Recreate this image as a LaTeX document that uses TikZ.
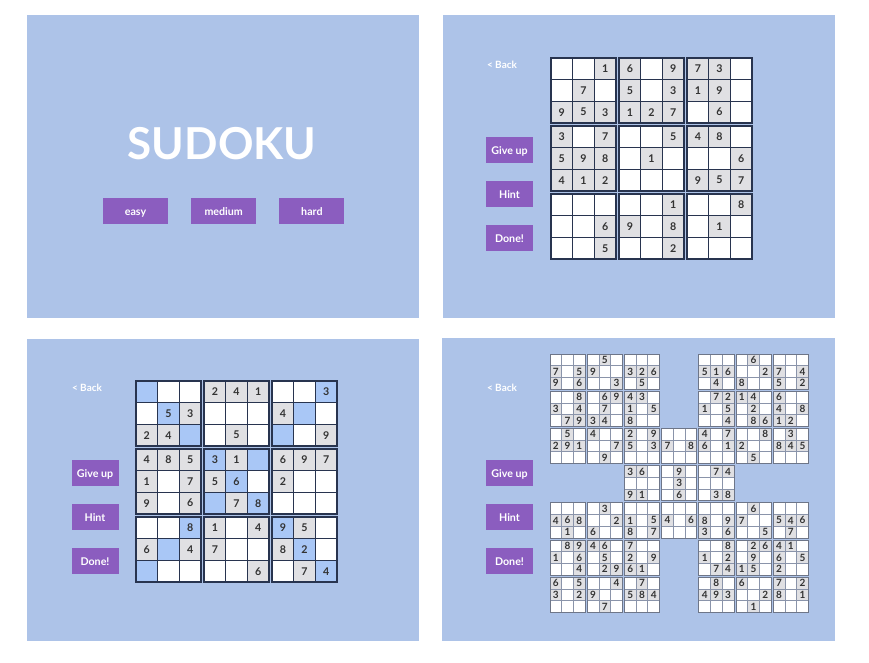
\documentclass[tikz,border=0pt]{standalone}
\usepackage{fontspec}
\setmainfont{Lato}
\usetikzlibrary{positioning}

\definecolor{panelblue}{HTML}{ADC3E8}
\definecolor{btnpurple}{HTML}{8B5DBF}
\definecolor{givengray}{HTML}{E0E0E3}
\definecolor{markblue}{HTML}{A9C7F6}
\definecolor{gridnavy}{HTML}{28344F}
\definecolor{samline}{HTML}{8A94AA}
\definecolor{digitgray}{HTML}{333333}

\tikzset{
  panel/.style={fill=panelblue},
  menubtn/.style={fill=btnpurple, text=white, font=\bfseries\fontsize{8}{9}\selectfont,
    minimum width=48.75pt, minimum height=19.5pt, inner sep=0pt,
    text height=1.6ex, text depth=0.3ex},
  sidebtn/.style={menubtn, minimum width=35.25pt},
  backlink/.style={text=white, font=\bfseries\fontsize{7.5}{9}\selectfont, inner sep=0pt},
  main cell/.style={draw=gridnavy, line width=1.1pt},
  main box/.style={draw=gridnavy, line width=1.5pt},
  main digit/.style={text=digitgray, font=\bfseries\fontsize{8}{9}\selectfont, inner sep=0pt},
  sam cell/.style={draw=samline, line width=0.6pt},
  sam box/.style={draw=samline!80!black, line width=0.7pt},
  sam digit/.style={text=digitgray, font=\bfseries\fontsize{7.5}{8}\selectfont, inner sep=0pt},
}

% one 9x9 grid: 0 empty, 1-9 given, 10 marked, 11-19 marked with digit
\newcommand{\sudokugrid}[7]{%
  \foreach \row [count=\rw from 0] in {#7} {
    \foreach \v [count=\cl from 0] in \row {
      \pgfmathsetmacro\cx{#2+\cl*#4+int(\cl/3)*#5}
      \pgfmathsetmacro\cy{#3+\rw*#4+int(\rw/3)*#5}
      \pgfmathtruncatemacro\dg{mod(\v,10)}
      \ifnum\v=0 \def\cellfill{white}\else\ifnum\v<10 \def\cellfill{givengray}\else\def\cellfill{markblue}\fi\fi
      \draw[#6 cell, fill=\cellfill] (\cx,\cy) rectangle ++(#4,#4);
      \ifnum\dg>0 \node[#6 digit] (#1-\rw-\cl) at (\cx+#4/2,\cy+#4/2) {\dg};\fi
    }
  }
  \foreach \i in {0,1,2}
    \foreach \j in {0,1,2}
      \draw[#6 box] (#2+\j*3*#4+\j*#5,#3+\i*3*#4+\i*#5) rectangle ++(3*#4,3*#4);
}

\begin{document}
\begin{tikzpicture}[x=0.75pt, y=-0.75pt]
    \useasboundingbox (0,0) rectangle (869,663);
    \fill[white] (0,0) rectangle (869,663);

    % panels
    \fill[panel] (27,15) rectangle (419,318);   % start
    \fill[panel] (443,15) rectangle (835,318);  % classic
    \fill[panel] (27,339) rectangle (419,641);  % hints
    \fill[panel] (442,338) rectangle (835,641); % samurai

    % start screen
    \node[text=white, font=\bfseries\fontsize{33}{36}\selectfont, inner sep=0pt] (title) at (222,144) {SUDOKU};
    \node[menubtn] (easy) at (135.5,211) {easy};
    \node[menubtn, right=17pt of easy] (medium) {medium};
    \node[menubtn, right=17pt of medium] (hard) {hard};

    % classic game
    \node[backlink] (back1) at (502,65) {< Back};
    \node[sidebtn] (giveup1) at (509.5,150) {Give up};
    \node[sidebtn, below=13pt of giveup1] (hint1) {Hint};
    \node[sidebtn, below=13pt of hint1] (done1) {Done!};
    \sudokugrid{tr}{551}{58}{21.67}{3}{main}{
      {0,0,1,6,0,9,7,3,0},
      {0,7,0,5,0,3,1,9,0},
      {9,5,3,1,2,7,0,6,0},
      {3,0,7,0,0,5,4,8,0},
      {5,9,8,0,1,0,0,0,6},
      {4,1,2,0,0,0,9,5,7},
      {0,0,0,0,0,1,0,0,8},
      {0,0,6,9,0,8,0,1,0},
      {0,0,5,0,0,2,0,0,0}}

    % game with hints
    \node[backlink] (back2) at (87,388) {< Back};
    \node[sidebtn] (giveup2) at (95,473) {Give up};
    \node[sidebtn, below=13pt of giveup2] (hint2) {Hint};
    \node[sidebtn, below=13pt of hint2] (done2) {Done!};
    \sudokugrid{bl}{136}{381}{21.67}{3}{main}{
      {10,0,0,2,4,1,0,0,13},
      {0,15,3,0,0,0,4,10,0},
      {2,4,10,0,5,0,10,0,9},
      {4,8,5,13,1,10,6,9,7},
      {1,0,7,5,16,0,2,0,0},
      {9,0,6,10,7,18,0,0,0},
      {0,0,18,1,0,4,19,5,0},
      {6,10,4,7,0,0,8,12,0},
      {10,0,0,0,0,6,0,7,14}}

    % samurai game
    \node[backlink] (back3) at (502,388) {< Back};
    \node[sidebtn] (giveup3) at (509.5,473) {Give up};
    \node[sidebtn, below=13pt of giveup3] (hint3) {Hint};
    \node[sidebtn, below=13pt of hint3] (done3) {Done!};
    \sudokugrid{sm}{624.4}{428.4}{11.73}{2}{sam}{
      {2,0,9,0,0,0,4,0,7},
      {5,0,3,7,0,8,6,0,1},
      {0,0,0,0,0,0,0,0,0},
      {3,6,0,0,9,0,0,7,4},
      {0,0,0,0,3,0,0,0,0},
      {9,1,0,0,6,0,0,3,8},
      {0,0,0,0,0,0,0,0,0},
      {1,0,5,4,0,6,8,0,9},
      {8,0,7,0,0,0,3,0,6}}
    \sudokugrid{sa}{550}{354}{11.73}{2}{sam}{
      {0,0,0,0,5,0,0,0,0},
      {7,0,5,9,0,0,3,2,6},
      {9,0,6,0,0,3,0,5,0},
      {0,0,8,0,6,9,4,3,0},
      {3,0,4,0,7,0,1,0,5},
      {0,7,9,3,4,0,8,0,0},
      {0,5,0,4,0,0,2,0,9},
      {2,9,1,0,0,7,5,0,3},
      {0,0,0,0,9,0,0,0,0}}
    \sudokugrid{sb}{698.8}{354}{11.73}{2}{sam}{
      {0,0,0,0,6,0,0,0,0},
      {5,1,6,0,0,2,7,0,4},
      {0,4,0,8,0,0,5,0,2},
      {0,7,2,1,4,0,6,0,0},
      {1,0,5,0,2,0,4,0,8},
      {0,0,4,0,8,6,1,2,0},
      {4,0,7,0,0,8,0,3,0},
      {6,0,1,2,0,0,8,4,5},
      {0,0,0,0,5,0,0,0,0}}
    \sudokugrid{sc}{550}{502.8}{11.73}{2}{sam}{
      {0,0,0,0,3,0,0,0,0},
      {4,6,8,0,0,2,1,0,5},
      {0,1,0,6,0,0,8,0,7},
      {0,8,9,4,6,0,7,0,0},
      {1,0,6,0,5,0,2,0,9},
      {0,0,4,0,2,9,6,1,0},
      {6,0,5,0,0,4,0,7,0},
      {3,0,2,9,0,0,5,8,4},
      {0,0,0,0,7,0,0,0,0}}
    \sudokugrid{sd}{698.8}{502.8}{11.73}{2}{sam}{
      {0,0,0,0,6,0,0,0,0},
      {8,0,9,7,0,0,5,4,6},
      {3,0,6,0,0,5,0,7,0},
      {0,0,8,0,2,6,4,1,0},
      {1,0,2,0,9,0,6,0,5},
      {0,7,4,1,5,0,2,0,0},
      {0,8,0,6,0,0,7,0,2},
      {4,9,3,0,0,2,8,0,1},
      {0,0,0,0,1,0,0,0,0}}

\end{tikzpicture}
\end{document}
